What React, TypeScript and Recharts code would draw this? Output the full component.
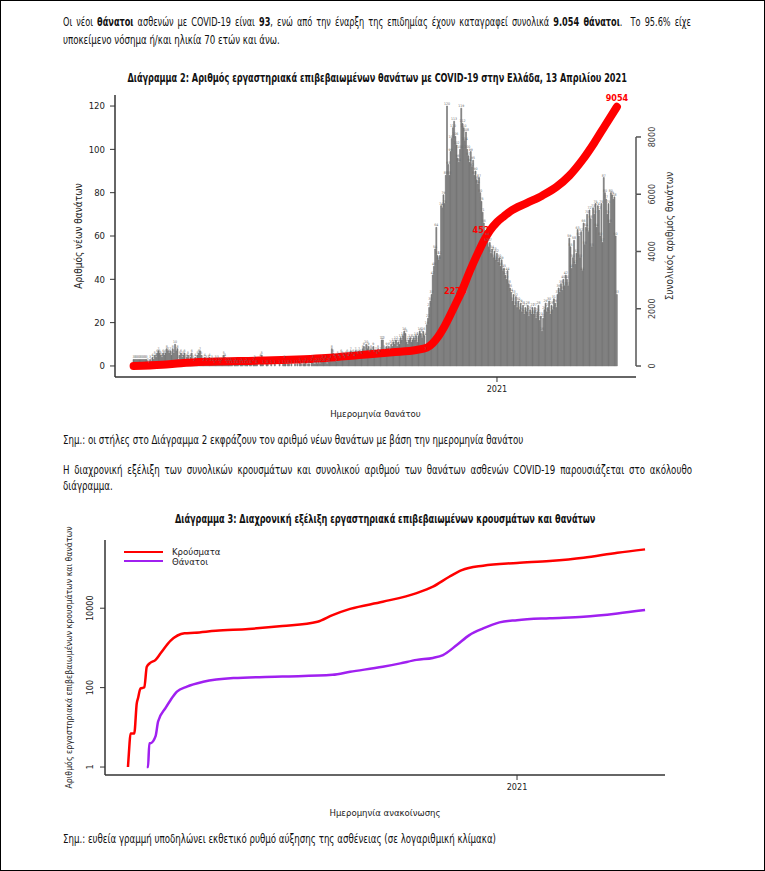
import React from "react";
import { Bar, ComposedChart, LabelList, Legend, Line, LineChart, XAxis, YAxis } from "recharts";

const FONT = '"Liberation Sans Narrow", "DejaVu Sans Condensed", "Liberation Sans", sans-serif';

// Διάγραμμα 2: νέοι θάνατοι ανά ημέρα (ημερομηνία θανάτου), ένας πίνακας ανά μήνα
const deathsMar20 = [3, 3, 3, 3, 3, 3, 3, 3, 3, 3, 3, 3, 2, 1, 3, 2, 4, 3, 5, 4, 6, 7, 6, 5, 4, 6, 5, 6, 8, 7, 6];
const deathsApr20 = [7, 5, 8, 6, 10, 7, 8, 3, 5, 6, 4, 5, 6, 3, 4, 5, 3, 4, 6, 3, 2, 4, 3, 5, 6, 7, 5, 3, 2, 4];
const deathsMay20 = [3, 2, 3, 4, 2, 3, 2, 1, 3, 2, 3, 2, 1, 2, 3, 5, 4, 2, 1, 2, 1, 2, 1, 0, 1, 2, 1, 1, 0, 1, 2];
const deathsJun20 = [1, 0, 1, 2, 1, 0, 1, 1, 0, 2, 3, 1, 1, 0, 0, 4, 5, 1, 0, 0, 1, 1, 0, 0, 1, 0, 0, 1, 0, 0];
const deathsJul20 = [0, 1, 0, 0, 1, 3, 1, 0, 1, 1, 0, 1, 0, 0, 1, 0, 1, 0, 2, 1, 0, 1, 1, 2, 0, 1, 1, 0, 2, 3, 1];
const deathsAug20 = [1, 2, 1, 2, 1, 2, 3, 2, 2, 3, 1, 2, 2, 3, 8, 6, 4, 3, 2, 5, 4, 3, 6, 5, 4, 3, 5, 6, 4, 5, 7];
const deathsSep20 = [5, 6, 4, 7, 6, 5, 7, 6, 5, 8, 9, 7, 10, 8, 9, 6, 8, 7, 9, 6, 7, 5, 8, 6, 7, 12, 12, 8, 7, 9];
const deathsOct20 = [8, 9, 7, 10, 9, 11, 10, 12, 9, 11, 10, 13, 12, 14, 16, 15, 11, 10, 12, 13, 11, 12, 13, 12, 14, 11, 14, 16, 15, 13, 16];
const deathsNov20 = [14, 7, 19, 22, 27, 30, 33, 42, 46, 54, 64, 51, 49, 51, 74, 73, 79, 75, 88, 120, 93, 88, 99, 105, 110, 113, 106, 102, 96, 94];
const deathsDec20 = [100, 119, 112, 110, 104, 108, 100, 97, 94, 99, 92, 95, 88, 90, 86, 84, 87, 80, 76, 71, 66, 62, 57, 60, 55, 57, 52, 54, 50, 53, 49];
const deathsJan21 = [52, 48, 50, 46, 49, 44, 45, 42, 40, 44, 38, 36, 34, 30, 33, 28, 32, 27, 30, 26, 29, 25, 28, 24, 27, 25, 28, 23, 26, 24, 27];
const deathsFeb21 = [24, 27, 22, 25, 28, 21, 23, 16, 22, 26, 29, 25, 27, 30, 24, 28, 26, 31, 29, 27, 33, 36, 34, 38, 35, 40, 37, 42];
const deathsMar21 = [40, 37, 59, 55, 45, 50, 58, 47, 52, 63, 60, 50, 62, 44, 66, 56, 64, 70, 62, 72, 68, 55, 73, 70, 75, 64, 74, 72, 60, 75, 57];
const deathsApr21 = [87, 80, 77, 70, 75, 66, 80, 79, 77, 78, 60, 33];

const deathMonths: [string, number[]][] = [
  ["2020-03", deathsMar20],
  ["2020-04", deathsApr20],
  ["2020-05", deathsMay20],
  ["2020-06", deathsJun20],
  ["2020-07", deathsJul20],
  ["2020-08", deathsAug20],
  ["2020-09", deathsSep20],
  ["2020-10", deathsOct20],
  ["2020-11", deathsNov20],
  ["2020-12", deathsDec20],
  ["2021-01", deathsJan21],
  ["2021-02", deathsFeb21],
  ["2021-03", deathsMar21],
  ["2021-04", deathsApr21],
];

// συνολικός αριθμός θανάτων (κόκκινη γραμμή, δεξιός άξονας)
const cumDates = [
  "2020-03-01", "2020-03-25", "2020-04-10", "2020-05-05", "2020-06-15", "2020-08-10", "2020-09-07",
  "2020-10-05", "2020-10-25", "2020-11-03", "2020-11-08", "2020-11-12", "2020-11-18", "2020-11-27",
  "2020-12-02", "2020-12-09", "2020-12-16", "2020-12-21", "2020-12-26", "2021-01-01", "2021-01-07",
  "2021-01-12", "2021-01-26", "2021-02-08", "2021-02-20", "2021-03-03", "2021-03-14", "2021-03-24",
  "2021-04-02", "2021-04-12",
];
const cumValues = [
  0, 40, 100, 150, 190, 280, 380,
  480, 560, 640, 800, 1000, 1400, 2150,
  2580, 3300, 3950, 4375, 4725, 5025, 5235,
  5400, 5690, 5950, 6250, 6650, 7200, 7800,
  8400, 9054,
];
const cumLabelDates = ["2020-12-02", "2020-12-26", "2021-04-12"];
const cumLabelTexts = ["2273", "4527", "9054"];

const leftTicks = [0, 20, 40, 60, 80, 100, 120];
const rightTicks = [0, 2000, 4000, 6000, 8000];
const yearTickDate = "2021-01-01";

// Διάγραμμα 3: συνολικά κρούσματα και θάνατοι (ημερομηνία ανακοίνωσης)
const caseDates = [
  "2020-02-26", "2020-02-27", "2020-02-28", "2020-03-02", "2020-03-04", "2020-03-05", "2020-03-07",
  "2020-03-10", "2020-03-12", "2020-03-15", "2020-03-19", "2020-03-23", "2020-03-31", "2020-04-11",
  "2020-04-19", "2020-05-06", "2020-06-01", "2020-06-28", "2020-07-26", "2020-08-07", "2020-08-21",
  "2020-09-16", "2020-10-13", "2020-10-26", "2020-11-08", "2020-11-18", "2020-12-05", "2021-01-01",
  "2021-01-27", "2021-02-23", "2021-03-22", "2021-04-13",
];
const caseValues = [
  1, 3, 7, 7, 40, 54, 96,
  101, 335, 425, 500, 730, 1520, 2330,
  2410, 2700, 3000, 3560, 4570, 6700, 9600,
  14500, 24000, 34900, 62000, 91000, 118000, 138000,
  155000, 187000, 250000, 303000,
];
const deathDates = [
  "2020-03-12", "2020-03-13", "2020-03-14", "2020-03-15", "2020-03-19", "2020-03-21", "2020-03-27",
  "2020-03-31", "2020-04-05", "2020-04-13", "2020-04-26", "2020-05-20", "2020-06-28", "2020-08-07",
  "2020-08-21", "2020-09-16", "2020-09-30", "2020-10-13", "2020-10-26", "2020-11-03", "2020-11-14",
  "2020-11-24", "2020-12-05", "2020-12-18", "2021-01-01", "2021-01-27", "2021-02-23", "2021-03-22",
  "2021-04-13",
];
const deathValues = [
  1, 1, 4, 4, 6, 14, 31,
  49, 79, 106, 140, 174, 190, 210,
  250, 336, 408, 500, 560, 660, 1180,
  2100, 3100, 4400, 5000, 5600, 6100, 7400,
  9054,
];
const logTicks = [1, 100, 10000];
const seriesNames = ["Κρούσματα", "Θάνατοι"];

const pad2 = (n: number) => (n < 10 ? "0" + n : String(n));
const dayNo = (s: string) => (Date.parse(s) - Date.parse(yearTickDate)) / 86400000;

const cumMap = new Map(cumDates.map((d, i) => [d, cumValues[i]]));
const chart2Data = deathMonths.flatMap(([month, vals]) =>
  vals.map((v, i) => {
    const date = `${month}-${pad2(i + 1)}`;
    return { date, deaths: v, cum: cumMap.has(date) ? cumMap.get(date) : null };
  })
);
const caseRows = caseDates.map((d, i) => ({ d: dayNo(d), v: caseValues[i] }));
const deathRows = deathDates.map((d, i) => ({ d: dayNo(d), v: deathValues[i] }));

// --- helpers για τίτλους αξόνων ---
function xTitle(text: string, dy: number) {
  return (props: any) => {
    const vb = props.viewBox || { x: 0, y: 0, width: 0, height: 0 };
    return (
      <text x={vb.x + vb.width / 2} y={vb.y + dy} textAnchor="middle" dominantBaseline="central"
        fontSize={9.5} fill="#222" fontFamily={FONT}>{text}</text>
    );
  };
}

function yTitle(text: string, cx: number, size = 9.5, color = "#222") {
  return (props: any) => {
    const vb = props.viewBox || { x: 0, y: 0, width: 0, height: 0 };
    const cy = vb.y + vb.height / 2;
    return (
      <text x={cx} y={cy} transform={`rotate(-90 ${cx} ${cy})`} textAnchor="middle" dominantBaseline="central"
        fontSize={size} fill={color} fontFamily={FONT}>{text}</text>
    );
  };
}

// Διάγραμμα 2 διαστάσεις
const C2_W = 765;
const C2_H = 425;
const C2_MARGIN = { top: 95, right: 69, left: 0, bottom: 0 };
const RIGHT_AXIS_X = 636;
const RIGHT_DOMAIN: [number, number] = [-384, 9466];
const PLOT2_H = 282;
const RIGHT_STEP = (2000 / (RIGHT_DOMAIN[1] - RIGHT_DOMAIN[0])) * PLOT2_H;

function RightTick(props: any) {
  const { y, payload } = props;
  const isTop = payload.value === rightTicks[rightTicks.length - 1];
  return (
    <g>
      <line x1={RIGHT_AXIS_X} x2={RIGHT_AXIS_X + 5} y1={y} y2={y} stroke="#555" strokeWidth={1.5} />
      {!isTop && <line x1={RIGHT_AXIS_X} x2={RIGHT_AXIS_X} y1={y} y2={y - RIGHT_STEP} stroke="#555" strokeWidth={1.5} />}
      <text x={652} y={y} transform={`rotate(-90 652 ${y})`} textAnchor="middle" dominantBaseline="central"
        fontSize={9} fill="#444" fontFamily={FONT}>{payload.value}</text>
    </g>
  );
}

function CumLabel(props: any) {
  const { x, y, index } = props;
  if (x == null || y == null) return null;
  const row = chart2Data[index];
  if (!row) return null;
  const k = cumLabelDates.indexOf(row.date);
  if (k < 0) return null;
  const isLast = k === cumLabelDates.length - 1;
  return (
    <text x={isLast ? x : x - 6} y={isLast ? y - 9 : y - 1} textAnchor="middle" dominantBaseline="central"
      fontSize={9} fontWeight="bold" fill="#ff0000" fontFamily={FONT}>{cumLabelTexts[k]}</text>
  );
}

function DeathsChart() {
  return (
    <ComposedChart width={C2_W} height={C2_H} data={chart2Data} margin={C2_MARGIN} barCategoryGap={0} barGap={0}>
      <XAxis dataKey="date" ticks={[yearTickDate]} tickFormatter={() => "2021"} padding={{ left: 18, right: 18.5 }}
        height={48} tickSize={5} tickMargin={4} axisLine={{ stroke: "#333", strokeWidth: 1.5 }}
        tickLine={{ stroke: "#333" }} tick={{ fontSize: 9, fill: "#222", fontFamily: FONT }}
        label={xTitle("Ημερομηνία θανάτου", 36)} />
      <YAxis yAxisId="left" width={115} domain={[-5.1, 125.1]} ticks={leftTicks} allowDataOverflow
        tickSize={5} tickMargin={5} axisLine={{ stroke: "#333", strokeWidth: 1.5 }} tickLine={{ stroke: "#333" }}
        tick={{ fontSize: 9.5, fill: "#222", fontFamily: FONT }}
        label={yTitle("Αριθμός νέων θανάτων", 78, 10)} />
      <YAxis yAxisId="right" orientation="right" width={60} domain={RIGHT_DOMAIN} ticks={rightTicks}
        allowDataOverflow axisLine={false} tickLine={false} tick={<RightTick />}
        label={yTitle("Συνολικός αριθμός θανάτων", 669, 10, "#333")} />
      <Bar yAxisId="left" dataKey="deaths" fill="#777" stroke="#777" strokeWidth={0.6} isAnimationActive={false}>
        <LabelList dataKey="deaths" position="top" offset={1} fontSize={3.5} fill="#6a6a6a"
          formatter={(v: any) => (v ? v : "")} />
      </Bar>
      <Line yAxisId="right" dataKey="cum" type="monotone" connectNulls stroke="#ff0000" strokeWidth={8}
        strokeLinecap="round" dot={false} activeDot={false} isAnimationActive={false}>
        <LabelList dataKey="cum" content={CumLabel} />
      </Line>
    </ComposedChart>
  );
}

function LogTick(props: any) {
  const { y, payload } = props;
  return (
    <text x={90} y={y} transform={`rotate(-90 90 ${y})`} textAnchor="middle" dominantBaseline="central"
      fontSize={9} fill="#222" fontFamily={FONT}>{payload.value}</text>
  );
}

function LegendBox(props: any) {
  const items = [...(props.payload || [])].sort(
    (a: any, b: any) => seriesNames.indexOf(a.value) - seriesNames.indexOf(b.value)
  );
  return (
    <div style={{ fontFamily: FONT, fontSize: 9.5, color: "#222" }}>
      {items.map((p: any) => (
        <div key={p.value} style={{ display: "flex", alignItems: "center", height: 9.5 }}>
          <span style={{ width: 39, borderTop: `2.5px solid ${p.color}` }} />
          <span style={{ marginLeft: 9 }}>{p.value}</span>
        </div>
      ))}
    </div>
  );
}

function CumulativeChart() {
  return (
    <LineChart width={765} height={330} margin={{ top: 40, right: 100, left: 0, bottom: 0 }}>
      <XAxis dataKey="d" type="number" domain={[-328.3, 117.9]} allowDataOverflow ticks={[dayNo(yearTickDate)]}
        tickFormatter={() => "2021"} height={55} tickSize={5} tickMargin={4}
        axisLine={{ stroke: "#333", strokeWidth: 1.5 }} tickLine={{ stroke: "#333" }}
        tick={{ fontSize: 9, fill: "#222", fontFamily: FONT }}
        label={xTitle("Ημερομηνία ανακοίνωσης", 37)} />
      <YAxis dataKey="v" scale="log" domain={[0.63, 522000]} allowDataOverflow ticks={logTicks} width={105}
        tickSize={5} axisLine={{ stroke: "#333", strokeWidth: 1.5 }} tickLine={{ stroke: "#333" }}
        tick={<LogTick />}
        label={yTitle("Αριθμός εργαστηριακά επιβεβαιωμένων κρουσμάτων και θανάτων", 69, 8.7)} />
      <Legend layout="vertical" align="center" verticalAlign="middle" content={<LegendBox />}
        wrapperStyle={{ left: 124, top: 47, width: 140, height: 20 }} />
      <Line data={caseRows} dataKey="v" name={seriesNames[0]} type="monotone" stroke="#ff0000" strokeWidth={2.5}
        dot={false} activeDot={false} isAnimationActive={false} />
      <Line data={deathRows} dataKey="v" name={seriesNames[1]} type="monotone" stroke="#a020f0" strokeWidth={2.5}
        dot={false} activeDot={false} isAnimationActive={false} />
    </LineChart>
  );
}

// κείμενο σελίδας: στενή γραμματοσειρά μέσω scaleX
const K = 0.837;
const KB = 0.79;

function TextLine({ top, width, justify, k = K, children }: {
  top: number; width?: number; justify?: boolean; k?: number; children: React.ReactNode;
}) {
  const inner: React.CSSProperties = justify
    ? { width: (width || 628) / k, textAlign: "justify", textAlignLast: "justify", whiteSpace: "normal" }
    : { display: "inline-block", whiteSpace: "nowrap" };
  return (
    <div style={{ position: "absolute", left: 63, top, fontSize: 11.5, lineHeight: "14px" }}>
      <div style={{ ...inner, transform: `scaleX(${k})`, transformOrigin: "left top" }}>{children}</div>
    </div>
  );
}

function Title({ top, cx, children }: { top: number; cx: number; children: React.ReactNode }) {
  return (
    <div style={{ position: "absolute", left: cx - 500, width: 1000, top, textAlign: "center", fontSize: 11.5,
      fontWeight: "bold", lineHeight: "14px" }}>
      <span style={{ display: "inline-block", whiteSpace: "nowrap", transform: `scaleX(${KB})`, transformOrigin: "center" }}>
        {children}
      </span>
    </div>
  );
}

export default function App() {
  return (
    <div style={{ position: "absolute", left: 0, top: 0, width: 765, height: 871, background: "#fff",
      fontFamily: FONT, color: "#111", overflow: "hidden" }}>
      <TextLine top={15} width={628} justify k={0.79}>
        Οι νέοι <b>θάνατοι</b> ασθενών με COVID-19 είναι <b>93</b>, ενώ από την έναρξη της επιδημίας έχουν καταγραφεί συνολικά <b>9.054 θάνατοι</b>.&nbsp; Το 95.6% είχε
      </TextLine>
      <TextLine top={33}>υποκείμενο νόσημα ή/και ηλικία 70 ετών και άνω.</TextLine>
      <Title top={71} cx={377}>
        Διάγραμμα 2: Αριθμός εργαστηριακά επιβεβαιωμένων θανάτων με COVID-19 στην Ελλάδα, 13 Απριλίου 2021
      </Title>
      <div style={{ position: "absolute", left: 0, top: 0 }}>
        <DeathsChart />
      </div>
      <TextLine top={433}>Σημ.: οι στήλες στο Διάγραμμα 2 εκφράζουν τον αριθμό νέων θανάτων με βάση την ημερομηνία θανάτου</TextLine>
      <TextLine top={463} width={629} justify>
        Η διαχρονική εξέλιξη των συνολικών κρουσμάτων και συνολικού αριθμού των θανάτων ασθενών COVID-19 παρουσιάζεται στο ακόλουθο
      </TextLine>
      <TextLine top={479}>διάγραμμα.</TextLine>
      <Title top={512} cx={385}>
        Διάγραμμα 3: Διαχρονική εξέλιξη εργαστηριακά επιβεβαιωμένων κρουσμάτων και θανάτων
      </Title>
      <div style={{ position: "absolute", left: 0, top: 500 }}>
        <CumulativeChart />
      </div>
      <TextLine top={832}>Σημ.: ευθεία γραμμή υποδηλώνει εκθετικό ρυθμό αύξησης της ασθένειας (σε λογαριθμική κλίμακα)</TextLine>
      <div style={{ position: "absolute", left: 0, top: 0, width: 765, height: 871, boxSizing: "border-box",
        border: "1px solid #000", pointerEvents: "none" }} />
    </div>
  );
}
